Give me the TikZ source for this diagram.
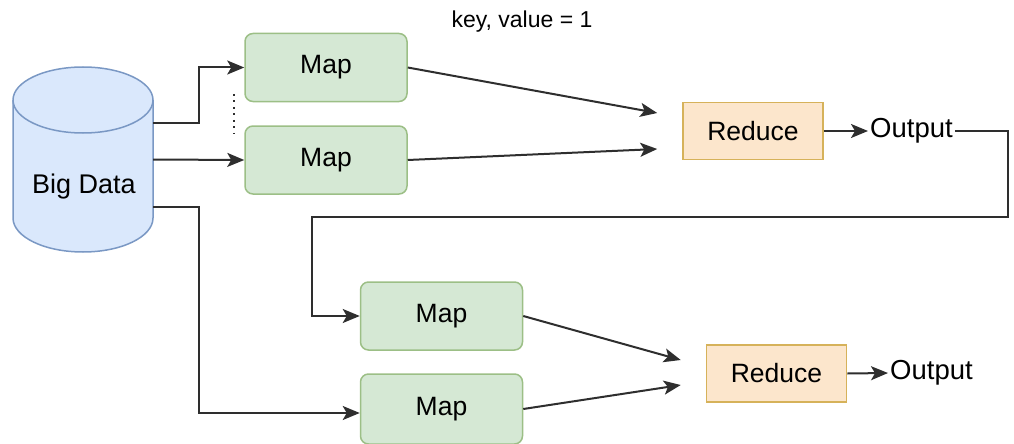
\documentclass[tikz,border=0pt]{standalone}
\usepackage{fontspec}
\setmainfont{Liberation Sans}
\usetikzlibrary{arrows.meta,positioning}
\definecolor{mapfill}{HTML}{D5E8D4}
\definecolor{mapdraw}{HTML}{9CBF86}
\definecolor{redfill}{HTML}{FCE6CC}
\definecolor{reddraw}{HTML}{D6B25A}
\definecolor{cylfill}{HTML}{DAE8FC}
\definecolor{cyldraw}{HTML}{7A98C4}
\definecolor{linec}{HTML}{2E2E2E}
\tikzset{
  mapbox/.style={draw=mapdraw, fill=mapfill, line width=1.5pt, rounded corners=8pt,
    minimum width=162pt, minimum height=68pt, inner sep=0pt,
    font=\fontsize{26.5}{30}\selectfont},
  redbox/.style={draw=reddraw, fill=redfill, line width=1.5pt,
    minimum width=140pt, minimum height=57pt, inner sep=0pt,
    font=\fontsize{26.5}{30}\selectfont},
  outtext/.style={inner sep=2pt, font=\fontsize{27.5}{30}\selectfont},
  conn/.style={draw=linec, line width=2pt, -{Stealth[length=17pt,width=14pt,inset=4pt]}},
  plain/.style={draw=linec, line width=2pt},
}
\begin{document}
\begin{tikzpicture}[x=1pt,y=-1pt]
\useasboundingbox (0,0) rectangle (1014,444);
% cylinder
\filldraw[fill=cylfill, draw=cyldraw, line width=1.5pt]
  (13,100) -- (13,218) arc[start angle=180,end angle=0,x radius=70,y radius=34]
  -- (153,100) arc[start angle=0,end angle=-180,x radius=70,y radius=33] -- cycle;
\draw[cyldraw, line width=1.5pt] (13,100) arc[start angle=180,end angle=0,x radius=70,y radius=33];
\node[minimum width=140pt, minimum height=185pt, inner sep=0pt] (bd) at (83,159.5) {};
\node[font=\fontsize{27}{30}\selectfont] (bdt) at (84,187) {Big Data};

\node[mapbox] (m1) at (326,67.5) {Map};
\node[mapbox] (m2) at (326,160) {Map};
\node[mapbox] (m3) at (441.5,316) {Map};
\node[mapbox, minimum height=70pt] (m4) at (441.5,409) {Map};
\node[redbox] (r1) at (753,131) {Reduce};
\node[redbox] (r2) at (776.5,373.5) {Reduce};
\node[outtext, anchor=west] (o1) at (868,131) {Output};
\node[outtext, anchor=west] (o2) at (888,373) {Output};
\node[font=\fontsize{23}{26}\selectfont] (kv) at (522,22) {key, value = 1};

% from big data
\draw[conn] ([yshift=36.5pt]bd.east) -| ([xshift=-45pt]m1.west) -- (m1.west);
\draw[conn] (bd.east) -- (m2.west);
\draw[conn] ([yshift=-47.5pt]bd.east) -| ([shift={(-161pt,-4pt)}]m4.west) -- ([yshift=-4pt]m4.west);
\draw[linec, line width=2pt, dash pattern=on 2pt off 4.5pt] ([xshift=-10pt,yshift=8.5pt]m1.south west) -- ([xshift=-10pt,yshift=-9pt]m2.north west);

% maps to reduce
\draw[conn] (m1.east) -- ([shift={(-25pt,18pt)}]r1.west);
\draw[conn] (m2.east) -- ([shift={(-25pt,-18pt)}]r1.west);
\draw[conn] (m3.east) -- ([shift={(-25pt,13.5pt)}]r2.west);
\draw[conn] (m4.east) -- ([shift={(-25pt,-11.5pt)}]r2.west);

% reduce to output
\draw[conn] (r1.east) -- (o1.west);
\draw[conn] (r2.east) -- (o2.west);

% feedback
\draw[conn] (o1.east) -| (1008,217) -| ([xshift=-48pt]m3.west) -- (m3.west);
\end{tikzpicture}
\end{document}
